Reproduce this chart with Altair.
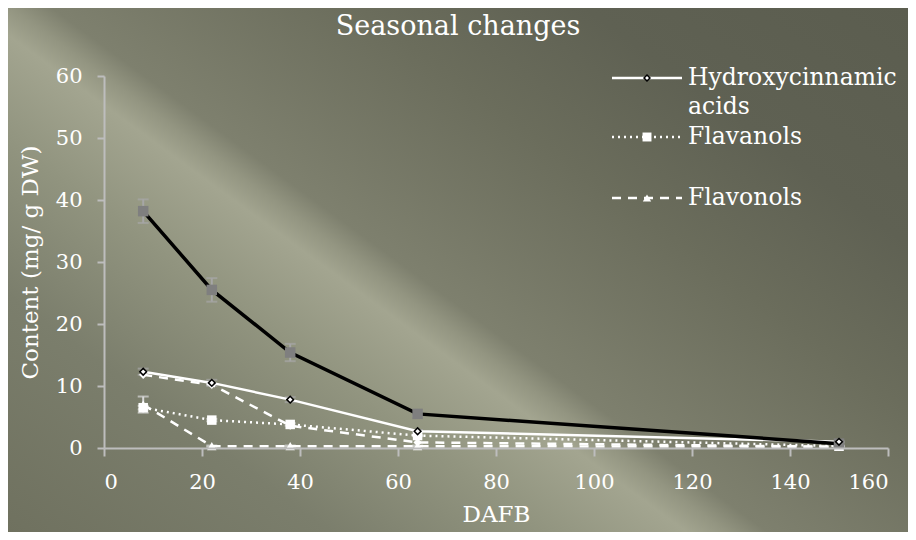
import altair as alt
import pandas as pd

# ---- data ----
days = [8, 22, 38, 64, 150]
total = [38.2, 25.5, 15.4, 5.5, 0.7]
total_err = [1.9, 1.9, 1.4, 0.4, 0.2]
hydroxycinnamic = [12.3, 10.5, 7.8, 2.7, 1.0]
hydroxycinnamic_err = [0.5, 0.5, 0.4, 0.2, 0.1]
flavanols = [6.5, 4.5, 3.8, 2.0, 0.3]
flavanols_err = [0.3, 0.2, 0.2, 0.1, 0.05]
flavonols = [7.0, 0.3, 0.3, 0.3, 0.2]
flavonols_err = [1.3, 0.1, 0.1, 0.1, 0.05]
other = [11.8, 10.2, 3.6, 0.9, 0.2]

legend_labels = ["Hydroxycinnamic acids", "Flavanols", "Flavonols"]
chart_title = "Seasonal changes"
x_ticks = [0, 20, 40, 60, 80, 100, 120, 140, 160]
y_ticks = [0, 10, 20, 30, 40, 50, 60]

FONT = "DejaVu Serif, serif"
W, H = 784, 372
PL, PT, PR, PB = 96, 68, 20, 84

AX = dict(grid=False, domainColor="#bdbdbd", domainWidth=2, tickColor="#bdbdbd", tickWidth=2,
          labelColor="white", labelFont=FONT, labelFontSize=21,
          titleColor="white", titleFont=FONT, titleFontSize=23, titleFontWeight="normal",
          zindex=1)


def frame(vals, errs=None):
    d = {"day": days, "v": vals}
    if errs is not None:
        d["lo"] = [a - b for a, b in zip(vals, errs)]
        d["hi"] = [a + b for a, b in zip(vals, errs)]
    return pd.DataFrame(d)


xscale = alt.Scale(domain=[0, 160], nice=False)
yscale = alt.Scale(domain=[0, 60], nice=False)
x_axis = alt.Axis(values=x_ticks, title="DAFB", tickSize=8, labelPadding=15, titlePadding=11, **AX)
y_axis = alt.Axis(values=y_ticks, title="Content (mg/ g DW)", tickSize=7, labelPadding=15, titlePadding=13, **AX)
xs = alt.X("day:Q", scale=xscale, axis=x_axis)
ys = alt.Y("v:Q", scale=yscale, axis=y_axis)

# background gradient
bg = alt.Chart(pd.DataFrame({"a": [0]})).mark_rect(
    fill=alt.Gradient(
        gradient="linear", x1=0, y1=1, x2=1.1, y2=0.125,
        stops=[
            alt.GradientStop(offset=0, color="#6f715f"),
            alt.GradientStop(offset=0.2, color="#7b7e6c"),
            alt.GradientStop(offset=0.33, color="#91947f"),
            alt.GradientStop(offset=0.42, color="#a3a590"),
            alt.GradientStop(offset=0.445, color="#939581"),
            alt.GradientStop(offset=0.47, color="#7e806e"),
            alt.GradientStop(offset=0.66, color="#6b6d5c"),
            alt.GradientStop(offset=0.8, color="#5f6153"),
            alt.GradientStop(offset=1, color="#5b5d4f"),
        ]),
).encode(x=alt.value(-PL), x2=alt.value(W + PR), y=alt.value(-PT), y2=alt.value(H + PB))


def errbars(vals, errs, color):
    return alt.Chart(frame(vals, errs)).mark_errorbar(
        ticks={"size": 11, "thickness": 2, "color": color}, thickness=2, color=color
    ).encode(x=xs, y=alt.Y("lo:Q", scale=yscale, axis=y_axis), y2="hi:Q")


def line(vals, color, width, dash=None):
    kw = dict(color=color, strokeWidth=width, strokeCap="butt")
    if dash:
        kw["strokeDash"] = dash
    return alt.Chart(frame(vals)).mark_line(**kw).encode(x=xs, y=ys)


def pts(vals, shape, size, fill, stroke=None, sw=0):
    kw = dict(shape=shape, size=size, filled=True, fill=fill, opacity=1)
    if stroke:
        kw.update(stroke=stroke, strokeWidth=sw)
    return alt.Chart(frame(vals)).mark_point(**kw).encode(x=xs, y=ys)


layers = [
    bg,
    errbars(total, total_err, "#a6a6a6"),
    errbars(hydroxycinnamic, hydroxycinnamic_err, "#a6a6a6"),
    errbars(flavanols, flavanols_err, "#d9d9d9"),
    errbars(flavonols, flavonols_err, "#d9d9d9"),
    line(flavonols, "white", 2.5, [9, 7]),
    line(other, "white", 2.5, [9, 7]),
    line(flavanols, "white", 2.5, [2, 4]),
    line(hydroxycinnamic, "white", 2.5),
    line(total, "black", 3.5),
    pts(other, "diamond", 70, "white"),
    pts(flavonols, "triangle-up", 90, "white"),
    pts(flavanols, "square", 90, "white"),
    pts(total, "square", 110, "#7f7f7f"),
    pts(hydroxycinnamic, "diamond", 45, "white", "black", 1.5),
]

# legend (drawn in the plot area, upper right)
leg_y = [2, 61, 122]
leg_dash = [None, [2, 4], [9, 7]]
leg_shape = [("diamond", 35, "white", "black", 1.5), ("square", 80, "white", None, 0),
             ("triangle-up", 70, "white", None, 0)]
one = pd.DataFrame({"a": [0]})
for lab, ly, dash, (shp, sz, fl, st, sw) in zip(legend_labels, leg_y, leg_dash, leg_shape):
    rk = dict(color="white", strokeWidth=2.5)
    if dash:
        rk["strokeDash"] = dash
    layers.append(alt.Chart(one).mark_rule(**rk).encode(
        x=alt.value(508), x2=alt.value(578), y=alt.value(ly)))
    pk = dict(shape=shp, size=sz, filled=True, fill=fl, opacity=1)
    if st:
        pk.update(stroke=st, strokeWidth=sw)
    layers.append(alt.Chart(one).mark_point(**pk).encode(x=alt.value(543), y=alt.value(ly)))
    layers.append(alt.Chart(pd.DataFrame({"t": [lab.replace(" acids", "\nacids")]})).mark_text(
        align="left", baseline="middle", font=FONT, fontSize=23.5, color="white",
        lineBreak="\n", lineHeight=29).encode(
        x=alt.value(584), y=alt.value(ly), text="t:N"))

# chart title as a text mark (centred on the figure)
layers.append(alt.Chart(pd.DataFrame({"t": [chart_title]})).mark_text(
    align="center", baseline="middle", font=FONT, fontSize=27, color="white").encode(
    x=alt.value(354), y=alt.value(-49), text="t:N"))

chart = alt.layer(*layers).properties(
    width=W, height=H,
    autosize=alt.AutoSizeParams(type="none"),
    padding={"left": PL, "top": PT, "right": PR, "bottom": PB},
).configure_view(stroke=None).configure(background="#6b6d5c")

chart.save("out.html", embed_options={"renderer": "svg", "actions": False})
